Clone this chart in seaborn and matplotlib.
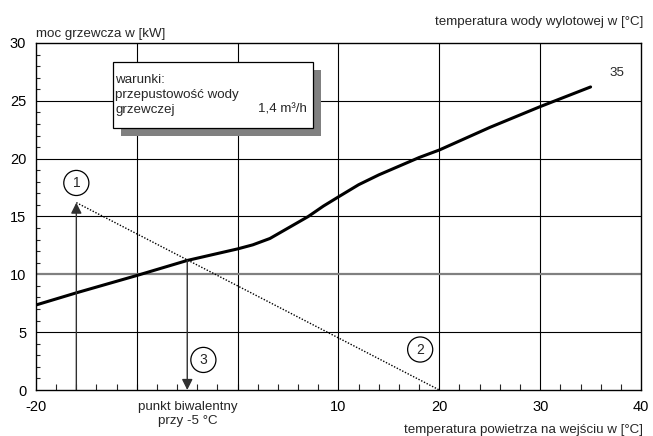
import numpy as np
import pandas as pd
import matplotlib
matplotlib.use("Agg")
import matplotlib.pyplot as plt
from matplotlib.patches import Rectangle
from matplotlib.ticker import MultipleLocator, FixedLocator
import seaborn as sns

# ---- data ----
air_temp = [-20, -16, -10, -5, 0, 1.5, 3.2, 5.2, 7, 8.5, 10, 12, 14, 16, 18, 20, 25, 30, 35]
heat_power = [7.35, 8.4, 9.9, 11.2, 12.2, 12.55, 13.1, 14.1, 15.0, 15.9, 16.7, 17.75, 18.6,
              19.35, 20.1, 20.75, 22.7, 24.5, 26.2]
demand_x = [-16, 20]
demand_y = [16.2, 0]
bivalent_x = -5
bivalent_y = 11.2
x_tick_values = [-20, 10, 20, 30, 40]
x_tick_labels = ["-20", "10", "20", "30", "40"]
y_tick_values = [0, 5, 10, 15, 20, 25, 30]
curve_label = "35"

sns.set_theme(style="white")
plt.rcParams['font.family'] = ['Liberation Sans', 'DejaVu Sans']

FS = 9.6

fig = plt.figure(figsize=(6.53, 4.36), dpi=100)
ax = fig.add_axes([36/653, 1-390/436, 605/653, 347/436])

ax.set_xlim(-20, 40)
ax.set_ylim(0, 30)

# grid
for gx in [-10, 0, 10, 20, 30]:
    ax.axvline(gx, color="black", lw=0.8, zorder=1)
for gy in [5, 15, 20, 25]:
    ax.axhline(gy, color="black", lw=0.8, zorder=1)
ax.axhline(10, color="#808080", lw=1.6, zorder=1)

curve = pd.DataFrame({"x": air_temp, "y": heat_power})
sns.lineplot(data=curve, x="x", y="y", ax=ax, color="black", lw=2.2, zorder=4,
             estimator=None, sort=False)
demand = pd.DataFrame({"x": demand_x, "y": demand_y})
sns.lineplot(data=demand, x="x", y="y", ax=ax, color="black", lw=1.0,
             linestyle=(0, (1, 1.2)), zorder=3, estimator=None, sort=False)

# arrows
ax.annotate("", xy=(demand_x[0], demand_y[0]), xytext=(demand_x[0], 0),
            arrowprops=dict(arrowstyle="-|>", color="#303030", lw=1.0,
                            mutation_scale=16, shrinkA=0, shrinkB=0), zorder=5)
ax.annotate("", xy=(bivalent_x, 0), xytext=(bivalent_x, bivalent_y),
            arrowprops=dict(arrowstyle="-|>", color="#303030", lw=1.0,
                            mutation_scale=16, shrinkA=0, shrinkB=0), zorder=5)

# circled numbers
for label, cx, cy in [("1", -16, 17.9), ("2", 18.1, 3.5), ("3", -3.4, 2.6)]:
    ax.text(cx, cy, label, ha="center", va="center", fontsize=10, zorder=6,
            bbox=dict(boxstyle="circle,pad=0.4", fc="white", ec="black", lw=0.9))

ax.text(37.6, 27.4, curve_label, ha="center", va="center", fontsize=FS)

# conditions box with shadow
bx0, bx1 = 0.127, 0.458
by0, by1 = 0.755, 0.945
ox, oy = 8/605, 8/347
ax.add_patch(Rectangle((bx0 + ox, by0 - oy), bx1 - bx0, by1 - by0, transform=ax.transAxes,
                       fc="#808080", ec="none", zorder=7))
ax.add_patch(Rectangle((bx0, by0), bx1 - bx0, by1 - by0, transform=ax.transAxes,
                       fc="white", ec="black", lw=0.9, zorder=8))
ax.text(0.131, 0.893, "warunki:", transform=ax.transAxes, fontsize=FS, va="center", zorder=9)
ax.text(0.131, 0.850, "przepustowość wody", transform=ax.transAxes, fontsize=FS, va="center", zorder=9)
ax.text(0.131, 0.807, "grzewczej", transform=ax.transAxes, fontsize=FS, va="center", zorder=9)
ax.text(0.447, 0.807, "1,4 m³/h", transform=ax.transAxes, fontsize=FS, va="center", ha="right", zorder=9)

# ticks
ax.xaxis.set_major_locator(FixedLocator(x_tick_values))
ax.set_xticklabels(x_tick_labels)
ax.xaxis.set_minor_locator(MultipleLocator(2))
ax.yaxis.set_major_locator(FixedLocator(y_tick_values))
ax.yaxis.set_minor_locator(MultipleLocator(1))
ax.tick_params(axis="both", which="major", length=0, labelsize=10.5, colors="black", pad=7)
ax.tick_params(axis="x", which="minor", direction="in", length=4, width=0.8, bottom=True, top=False)
ax.tick_params(axis="y", which="minor", direction="in", length=3, width=0.8, left=True, right=False)
ax.set_xlabel("")
ax.set_ylabel("")
for s in ax.spines.values():
    s.set_color("black")
    s.set_linewidth(1.0)
    s.set_zorder(10)

# labels
fig.text(36/653, 1-34/436, "moc grzewcza w [kW]", fontsize=FS, ha="left", va="center")
fig.text(643/653, 1-22/436, "temperatura wody wylotowej w [°C]", fontsize=FS, ha="right", va="center")
fig.text(643/653, 1-430/436, "temperatura powietrza na wejściu w [°C]", fontsize=FS, ha="right", va="center")
fig.text(188/653, 1-414/436, "punkt biwalentny\nprzy -5 °C", fontsize=FS, ha="center", va="center",
         linespacing=1.2)

fig.savefig("out.png", dpi=100)
